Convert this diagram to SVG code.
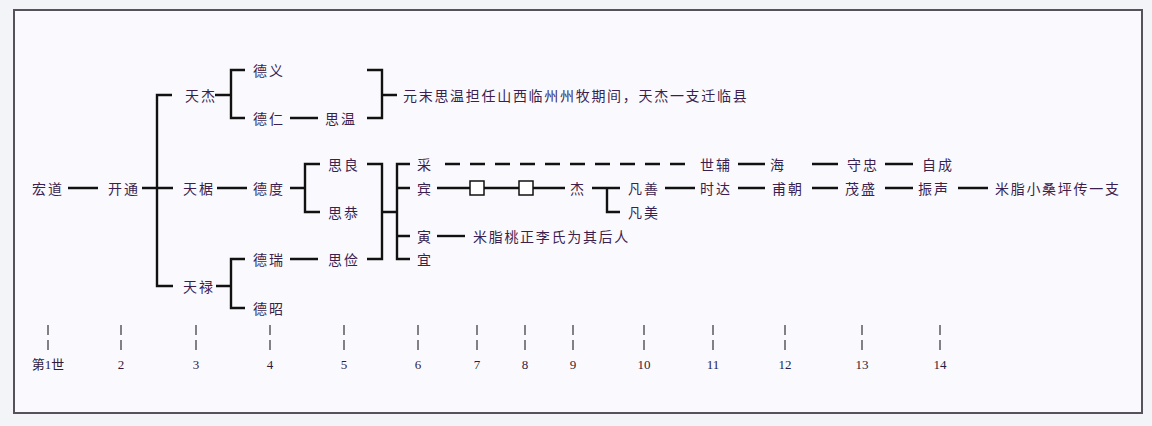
<svg xmlns="http://www.w3.org/2000/svg" width="1152" height="426" viewBox="0 0 1152 426">
<style>
text{font-family:"Noto Sans CJK SC","Noto Sans CJK TC",sans-serif;font-size:14px;fill:#3b1f4f;dominant-baseline:central;letter-spacing:2px}
.note{letter-spacing:1.7px}
.num{font-family:"Liberation Serif","Noto Sans CJK SC",serif;font-size:13px;letter-spacing:0;text-anchor:middle;fill:#2e1a3c}
.ln{stroke:#111;stroke-width:2.4;fill:none}
.dash{stroke:#111;stroke-width:2.4;fill:none;stroke-dasharray:15 10}
.tick{stroke:#333;stroke-width:1.2}
.sq{fill:#fff;stroke:#111;stroke-width:1.5}
</style>
<rect x="0" y="0" width="1152" height="426" fill="#f3f4f8"/>
<rect x="14" y="10" width="1128" height="403" fill="#fafafe" stroke="#55525c" stroke-width="2"/>
<g id="connectors">
<path class="ln" d="M68 188H98M142 188H173M172 95H157V286H173"/>
<path class="ln" d="M215 95H231M245 70H231V118H245M290 118H318"/>
<path class="ln" d="M367 70H382V118H367M382 95H397"/>
<path class="ln" d="M217 188H247M290 188H305M320 164H305V212H320"/>
<path class="ln" d="M216 286H231M245 259H231V308H245M290 259H318"/>
<path class="ln" d="M367 164H382V259H367M382 212H397M410 164H397V259H410M397 188H410M397 236H410"/>
<path class="dash" d="M445 164H685"/>
<path class="ln" d="M437 188H470M484 188H519M533 188H565"/>
<path class="ln" d="M592 188H607M620 188H607V212H620M665 188H695"/>
<path class="ln" d="M738 164H765M812 164H838M885 164H913"/>
<path class="ln" d="M738 188H765M812 188H838M885 188H913M958 188H988"/>
<path class="ln" d="M437 236H465"/>
<rect class="sq" x="470" y="181" width="14" height="14"/>
<rect class="sq" x="519" y="181" width="14" height="14"/>
</g>
<g id="n1"><text x="32" y="188">宏道</text></g>
<g id="n2"><text x="108" y="188">开通</text></g>
<g id="n3a"><text x="185" y="95">天杰</text></g>
<g id="n3b"><text x="183" y="188">天椐</text></g>
<g id="n3c"><text x="183" y="286">天禄</text></g>
<g id="n4a"><text x="253" y="70">德义</text></g>
<g id="n4b"><text x="253" y="118">德仁</text></g>
<g id="n4c"><text x="253" y="188">德度</text></g>
<g id="n4d"><text x="253" y="259">德瑞</text></g>
<g id="n4e"><text x="253" y="308">德昭</text></g>
<g id="n5a"><text x="325" y="118">思温</text></g>
<g id="n5b"><text x="328" y="164">思良</text></g>
<g id="n5c"><text x="328" y="212">思恭</text></g>
<g id="n5d"><text x="328" y="259">思俭</text></g>
<g id="note1"><text class="note" x="403" y="95">元末思温担任山西临州州牧期间，天杰一支迁临县</text></g>
<g id="n6a"><text x="417" y="164">采</text></g>
<g id="n6b"><text x="417" y="188">宾</text></g>
<g id="n6c"><text x="417" y="236">寅</text></g>
<g id="n6d"><text x="417" y="259">宜</text></g>
<g id="note2"><text class="note" x="473" y="236">米脂桃正李氏为其后人</text></g>
<g id="n9"><text x="570" y="188">杰</text></g>
<g id="n10a"><text x="628" y="188">凡善</text></g>
<g id="n10b"><text x="628" y="212">凡美</text></g>
<g id="n11a"><text x="700" y="164">世辅</text></g>
<g id="n12a"><text x="770" y="164">海</text></g>
<g id="n13a"><text x="847" y="164">守忠</text></g>
<g id="n14a"><text x="922" y="164">自成</text></g>
<g id="n11b"><text x="700" y="188">时达</text></g>
<g id="n12b"><text x="772" y="188">甫朝</text></g>
<g id="n13b"><text x="845" y="188">茂盛</text></g>
<g id="n14b"><text x="918" y="188">振声</text></g>
<g id="note3"><text class="note" x="995" y="188">米脂小桑坪传一支</text></g>
<g id="scale">
<path class="tick" d="M48 325V335M48 340V350M121 325V335M121 340V350M196 325V335M196 340V350M270 325V335M270 340V350M344 325V335M344 340V350M418 325V335M418 340V350M477 325V335M477 340V350M525 325V335M525 340V350M573 325V335M573 340V350M644 325V335M644 340V350M713 325V335M713 340V350M785 325V335M785 340V350M862 325V335M862 340V350M940 325V335M940 340V350"/>
<text class="num" x="48" y="364">第1世</text>
<text class="num" x="121" y="364">2</text>
<text class="num" x="196" y="364">3</text>
<text class="num" x="270" y="364">4</text>
<text class="num" x="344" y="364">5</text>
<text class="num" x="418" y="364">6</text>
<text class="num" x="477" y="364">7</text>
<text class="num" x="525" y="364">8</text>
<text class="num" x="573" y="364">9</text>
<text class="num" x="644" y="364">10</text>
<text class="num" x="713" y="364">11</text>
<text class="num" x="785" y="364">12</text>
<text class="num" x="862" y="364">13</text>
<text class="num" x="940" y="364">14</text>
</g>
</svg>
